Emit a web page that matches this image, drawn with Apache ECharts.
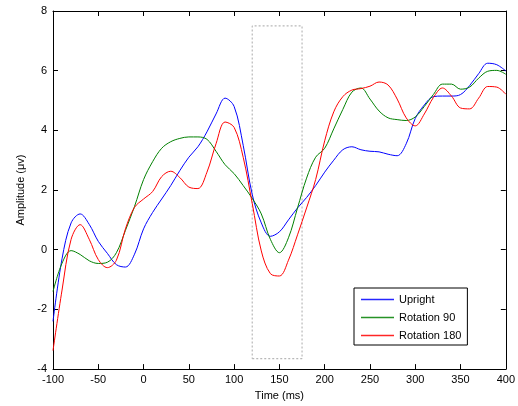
<!DOCTYPE html>
<html>
<head>
<meta charset="utf-8">
<script src="https://cdn.jsdelivr.net/npm/echarts@6/dist/echarts.min.js"></script>
<style>
  html, body { margin: 0; padding: 0; background: #fff; }
  #chart { width: 518px; height: 406px; }
</style>
</head>
<body>
<div id="chart"></div>
<script>
// time points (ms)
const times = [-100, -90, -80, -70, -60, -50, -40, -30, -20, -10,
  0, 10, 20, 30, 40, 50, 60, 70, 80, 90,
  100, 110, 120, 130, 140, 150, 160, 170, 180, 190,
  200, 210, 220, 230, 240, 250, 260, 270, 280, 290,
  300, 310, 320, 330, 340, 350, 360, 370, 380, 390, 400]

const upright = [-2.4, -0.3, 0.9, 1.2, 0.85, 0.28, -0.12, -0.5, -0.58, -0.15,
  0.7, 1.25, 1.7, 2.15, 2.65, 3.1, 3.45, 3.95, 4.55, 5.08,
  4.8, 3.5, 1.85, 0.9, 0.45, 0.6, 1.0, 1.4, 1.75, 2.15,
  2.6, 3.0, 3.35, 3.45, 3.35, 3.3, 3.28, 3.2, 3.15, 3.55,
  4.4, 4.85, 5.13, 5.15, 5.15, 5.2, 5.5, 5.9, 6.25, 6.2, 5.99]

const rot90 = [-1.4, -0.45, -0.03, -0.16, -0.37, -0.46, -0.42, -0.1, 0.65, 1.45,
  2.35, 2.95, 3.4, 3.62, 3.73, 3.78, 3.78, 3.7, 3.3, 2.85,
  2.55, 2.15, 1.72, 1.2, 0.35, -0.1, 0.4, 1.4, 2.4, 3.1,
  3.4, 4.05, 4.7, 5.28, 5.42, 5.05, 4.65, 4.42, 4.36, 4.33,
  4.45, 4.8, 5.2, 5.55, 5.55, 5.38, 5.45, 5.75, 5.98, 6.01, 5.88]

const rot180 = [-3.38, -1.35, 0.35, 0.84, 0.35, -0.33, -0.6, -0.35, 0.7, 1.42,
  1.7, 1.95, 2.45, 2.63, 2.42, 2.1, 2.05, 2.6, 3.55, 4.28,
  4.1, 3.1, 1.55, -0.04, -0.8, -0.88, -0.35, 0.5, 1.4, 2.35,
  3.65, 4.62, 5.13, 5.35, 5.4, 5.48, 5.62, 5.52, 5.05, 4.42,
  4.15, 4.55, 5.1, 5.42, 5.15, 4.75, 4.72, 5.08, 5.47, 5.45, 5.21]

// dotted window: [t0, t1], [v0, v1]
const windowTime = [120, 175]
const windowAmp = [-3.65, 7.5]

const names = ['Upright', 'Rotation 90', 'Rotation 180']
const colors = ['#0000ff', '#008000', '#ff0000']

const pairs = (vals) => times.map((t, i) => [t, vals[i]])

const windowBox = [
  [windowTime[0], windowAmp[0]],
  [windowTime[1], windowAmp[0]],
  [windowTime[1], windowAmp[1]],
  [windowTime[0], windowAmp[1]],
  [windowTime[0], windowAmp[0]],
]

const font = 'Liberation Sans, Arial, sans-serif'
const chart = echarts.init(document.getElementById('chart'))

const tickStyle = { show: true, inside: true, length: 5, lineStyle: { color: '#000' } }
const lineAxis = { show: true, onZero: false, lineStyle: { color: '#000', width: 1 } }

chart.setOption({
  animation: false,
  grid: { left: 53, right: 8, top: 11, bottom: 33 },
  legend: {
    data: names.map((n, i) => ({
      name: n,
      icon: 'path://M0,0L66,0L66,3L0,3Z',
      itemStyle: { color: colors[i], opacity: 0.85 },
    })),
    symbolKeepAspect: true,
    orient: 'vertical',
    left: 354,
    top: 288,
    width: 114,
    padding: [6, 6, 4, 7],
    itemWidth: 33,
    itemHeight: 10,
    itemGap: 7,
    borderColor: '#000',
    borderWidth: 1,
    backgroundColor: '#fff',
    textStyle: { fontFamily: font, fontSize: 11, color: '#000' },
  },
  xAxis: [
    {
      type: 'value',
      min: -100,
      max: 400,
      interval: 50,
      name: 'Time (ms)',
      nameLocation: 'middle',
      nameGap: 20,
      nameTextStyle: { fontFamily: font, fontSize: 11, color: '#000' },
      axisLine: lineAxis,
      axisTick: tickStyle,
      axisLabel: { fontFamily: font, fontSize: 11, color: '#000', margin: 5 },
      splitLine: { show: false },
    },
    {
      type: 'value',
      position: 'top',
      min: -100,
      max: 400,
      interval: 50,
      axisLine: lineAxis,
      axisTick: tickStyle,
      axisLabel: { show: false },
      splitLine: { show: false },
    },
  ],
  yAxis: [
    {
      type: 'value',
      min: -4,
      max: 8,
      interval: 2,
      name: 'Amplitude (μv)',
      nameLocation: 'middle',
      nameGap: 15,
      nameTextStyle: { fontFamily: font, fontSize: 11, color: '#000' },
      axisLine: lineAxis,
      axisTick: tickStyle,
      axisLabel: { fontFamily: font, fontSize: 11, color: '#000', margin: 6 },
      splitLine: { show: false },
    },
    {
      type: 'value',
      position: 'right',
      min: -4,
      max: 8,
      interval: 2,
      axisLine: lineAxis,
      axisTick: tickStyle,
      axisLabel: { show: false },
      splitLine: { show: false },
    },
  ],
  series: [
    {
      name: 'window',
      type: 'line',
      data: windowBox,
      symbol: 'none',
      silent: true,
      lineStyle: { color: '#b8b8b8', width: 1.2, type: [2, 2] },
    },
    ...[upright, rot90, rot180].map((vals, i) => ({
      name: names[i],
      type: 'line',
      data: pairs(vals),
      symbol: 'none',
      smooth: 0.35,
      itemStyle: { color: colors[i] },
      lineStyle: { color: colors[i], width: 1 },
    })),
  ],
})
</script>
</body>
</html>
